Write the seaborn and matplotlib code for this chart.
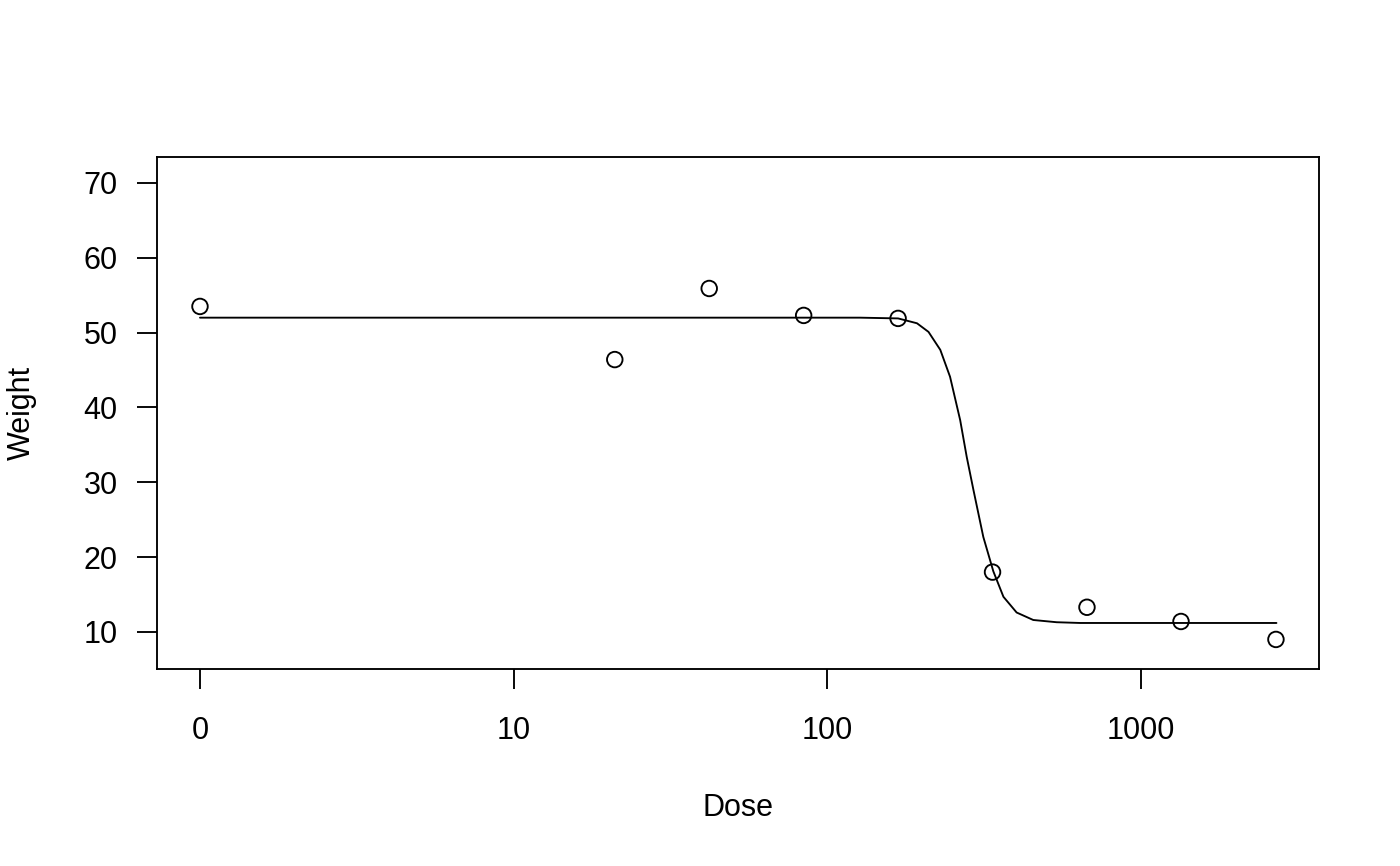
import numpy as np
import pandas as pd
import matplotlib
matplotlib.use("Agg")
import matplotlib.pyplot as plt
import seaborn as sns

# observed points (dose 0 is drawn at the position of 1 on the log axis, like drc does)
dose = [0, 21, 42, 84, 168, 336, 672, 1340, 2690]
weight = [53.5, 46.4, 55.9, 52.3, 51.9, 18.0, 13.3, 11.4, 9.0]

# fitted curve
curve_dose = [0, 127, 168, 193, 210, 229, 246, 265, 278, 292, 314, 338, 364, 401, 453, 538, 639, 2700]
curve_weight = [52.0, 52.0, 51.9, 51.25, 50.1, 47.7, 44.1, 38.3, 33.4, 29.0, 22.7, 18.1, 14.7, 12.6, 11.6, 11.3, 11.2, 11.2]

x_ticks = [1, 10, 100, 1000]
x_ticklabels = ["0", "10", "100", "1000"]
y_ticks = [10, 20, 30, 40, 50, 60, 70]

pts = pd.DataFrame({"Dose": np.where(np.array(dose) == 0, 1, dose), "Weight": weight})
fit = pd.DataFrame({"Dose": np.where(np.array(curve_dose) == 0, 1, curve_dose), "Weight": curve_weight})

sns.set_style("white")
plt.rcParams["font.family"] = ["Liberation Sans", "DejaVu Sans"]

fig = plt.figure(figsize=(14, 8.66), dpi=100)
ax = fig.add_axes([157 / 1400, 1 - 669 / 866, 1162 / 1400, 512 / 866])

lw = 1.35
sns.lineplot(data=fit, x="Dose", y="Weight", color="black", linewidth=lw,
             sort=False, estimator=None, ax=ax)
sns.scatterplot(data=pts, x="Dose", y="Weight", marker="o", s=125,
                facecolor="none", edgecolor="black", linewidth=lw, ax=ax)

ax.set_xscale("log")
ax.set_xlim(10 ** -0.137, 10 ** 3.567)
ax.set_ylim(5.05, 73.47)
ax.set_xticks(x_ticks)
ax.set_xticklabels(x_ticklabels)
ax.xaxis.set_minor_locator(matplotlib.ticker.NullLocator())
ax.set_yticks(y_ticks)
ax.tick_params(axis="both", which="major", bottom=True, left=True,
               direction="out", length=14.4, width=lw,
               color="black", labelsize=22, labelcolor="black")
ax.tick_params(axis="x", pad=19.5)
ax.tick_params(axis="y", pad=14)

for s in ax.spines.values():
    s.set_visible(True)
    s.set_color("black")
    s.set_linewidth(lw)

ax.set_xlabel("Dose", fontsize=22, color="black")
ax.set_ylabel("Weight", fontsize=22, color="black")
ax.xaxis.set_label_coords(0.5, -0.243)
ax.yaxis.set_label_coords(-0.1165, 0.5)
ax.yaxis.label.set_va("center")

fig.savefig("out.png", dpi=100, facecolor="white")
